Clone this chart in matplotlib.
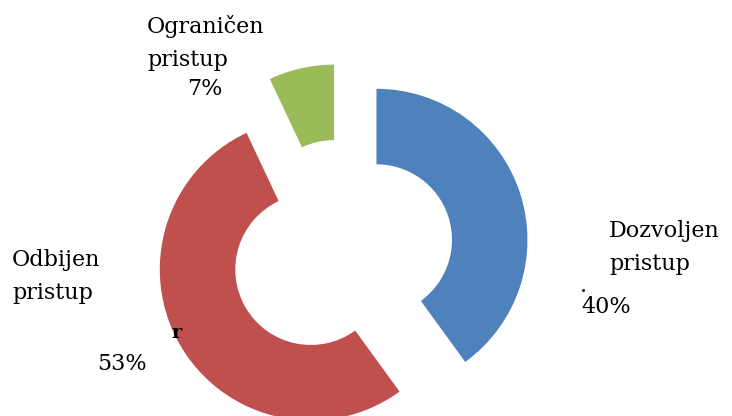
import matplotlib
matplotlib.use("Agg")
import matplotlib.pyplot as plt

# Data
categories = ["Dozvoljen\npristup", "Odbijen\npristup", "Ograničen\npristup"]
values = [40, 53, 7]
pct_labels = ["40%", "53%", "7%"]
colors = ["#4F81BD", "#C0504D", "#9BBB59"]

W, H = 732, 416
fig = plt.figure(figsize=(W / 100, H / 100), dpi=100)
ax = fig.add_axes([0, 0, 1, 1])
ax.axis("off")

R = 151.0
cx, cy = 342.0, 251.0  # pixel centre (from top)

ax.pie(values, colors=colors, startangle=90, counterclock=False,
       radius=1.0, explode=[0.24] * len(values),
       wedgeprops=dict(width=0.5, edgecolor="none"))
ax.set_aspect("equal")
ax.set_xlim(-cx / R, (W - cx) / R)
ax.set_ylim(-(H - cy) / R, cy / R)


def px(x, y):
    return x / W, 1 - y / H


font = dict(family="DejaVu Serif", fontsize=16, color="black")

# Category labels (two lines each)
label_pos = {0: (609, 237), 1: (12, 266), 2: (147, 33)}
for i, (x, y) in label_pos.items():
    l1, l2 = categories[i].split("\n")
    fig.text(*px(x, y), l1, ha="left", va="baseline", **font)
    fig.text(*px(x, y + 33), l2, ha="left", va="baseline", **font)

# Percentage labels
pct_pos = {0: (606, 313), 1: (122, 370), 2: (205, 95)}
for i, (x, y) in pct_pos.items():
    fig.text(*px(x, y), pct_labels[i], ha="center", va="baseline", **font)

# stray marks in original
fig.text(*px(583, 292), ".", ha="center", va="baseline", **font)
fig.text(*px(177, 338), "r", ha="center", va="baseline",
         family="DejaVu Serif", fontsize=14, fontweight="bold", color="black")

fig.savefig("out.png", dpi=100)
